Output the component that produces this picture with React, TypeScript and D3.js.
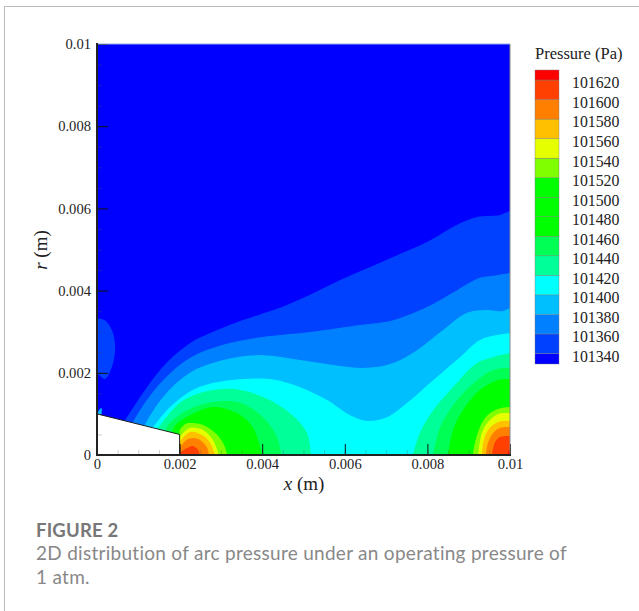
import React, { useEffect, useRef } from 'react';
import * as d3 from 'd3';

type Pt = [number, number];

// pressure bands, bottom to top of the legend
const levels = [101340, 101360, 101380, 101400, 101420, 101440, 101460, 101480, 101500, 101520, 101540, 101560, 101580, 101600, 101620];
const bandColors = ['#0000ff', '#0040ff', '#0080ff', '#00bfff', '#00ffff', '#00ff99', '#00ff55', '#00ff00', '#00ff00', '#00ff00', '#80ff00', '#e6ff00', '#ffc000', '#ff8000', '#ff4000', '#ff0000'];

const xMajor = [0, 0.002, 0.004, 0.006, 0.008, 0.01];
const rMajor = [0, 0.002, 0.004, 0.006, 0.008, 0.01];
const minorStep = 0.0005;

// contour lines, [x, r] in mm
const c340: Pt[] = [[0.56, 0.66], [0.68, 0.85], [1.21, 1.65], [1.69, 2.25], [2.25, 2.72], [2.8, 2.99], [3.39, 3.23], [4.6, 3.65], [6.05, 4.33], [7.17, 4.82], [7.99, 5.18], [8.72, 5.6], [9.2, 5.79], [9.76, 5.84], [10, 5.94]];
const c340bump: Pt[] = [[0, 3.32], [0.19, 3.28], [0.36, 3.04], [0.44, 2.63], [0.36, 2.14], [0.19, 1.85], [0, 2.0]];
const c360: Pt[] = [[0.8, 0.66], [0.87, 0.8], [1.16, 1.27], [1.6, 1.82], [2.25, 2.36], [3.05, 2.68], [3.87, 2.85], [5.16, 2.99], [6.37, 3.16], [7.17, 3.28], [7.99, 3.6], [8.72, 4.01], [9.27, 4.31], [9.59, 4.36], [10, 4.43]];
const c380: Pt[] = [[1.09, 0.56], [1.16, 0.73], [1.6, 1.41], [2.25, 2.0], [3.05, 2.31], [3.87, 2.43], [4.92, 2.31], [5.71, 2.19], [6.54, 2.12], [7.17, 2.24], [7.75, 2.55], [8.38, 3.04], [8.96, 3.46], [9.44, 3.53], [9.83, 3.5], [10, 3.58]];
const c380blip: Pt[] = [[0, 1.0], [0.06, 1.1], [0.11, 1.14], [0.11, 1.0]];
const c400: Pt[] = [[1.28, 0.56], [1.36, 0.68], [1.77, 1.17], [2.42, 1.63], [3.22, 1.82], [4.26, 1.84], [4.92, 1.65], [5.57, 1.34], [6.13, 0.97], [6.54, 0.83], [7.02, 0.92], [7.51, 1.27], [8.14, 1.82], [8.79, 2.38], [9.27, 2.8], [9.69, 2.92], [10, 2.97]];
const c420L: Pt[] = [[1.4, 0.56], [1.48, 0.66], [2.01, 1.27], [2.57, 1.53], [3.29, 1.61], [4.02, 1.41], [4.67, 1.02], [5.08, 0.54], [5.18, 0]];
const c420R: Pt[] = [[7.65, 0], [7.82, 0.54], [8.14, 1.09], [8.62, 1.65], [9.2, 2.24], [9.59, 2.38], [10, 2.48]];
const c440L: Pt[] = [[1.65, 0.56], [1.72, 0.73], [2.18, 1.09], [2.81, 1.29], [3.46, 1.27], [4.02, 0.92], [4.36, 0.44], [4.46, 0]];
const c440R: Pt[] = [[8.14, 0], [8.31, 0.68], [8.72, 1.34], [9.2, 1.82], [9.59, 2.07], [10, 2.12]];
const c460L: Pt[] = [[1.82, 0.56], [1.9, 0.73], [2.25, 0.97], [2.81, 1.17], [3.39, 1.02], [3.78, 0.66], [4.0, 0]];
const c460R: Pt[] = [[8.5, 0], [8.62, 0.61], [8.86, 1.09], [9.27, 1.58], [9.69, 1.82], [10, 1.85]];
const c520L: Pt[] = [[2, 0.61], [2.13, 0.75], [2.25, 0.78], [2.57, 0.73], [2.91, 0.49], [3.1, 0.19], [3.15, 0]];
const c520R: Pt[] = [[9.1, 0], [9.15, 0.29], [9.32, 0.78], [9.52, 1.02], [9.76, 1.14], [10, 1.17]];
const c540L: Pt[] = [[2, 0.44], [2.25, 0.66], [2.57, 0.61], [2.81, 0.36], [2.95, 0]];
const c540R: Pt[] = [[9.23, 0], [9.32, 0.54], [9.47, 0.8], [9.71, 1.0], [10, 1.02]];
const c560L: Pt[] = [[2, 0.32], [2.25, 0.56], [2.54, 0.49], [2.74, 0.29], [2.86, 0]];
const c560R: Pt[] = [[9.32, 0], [9.35, 0.29], [9.47, 0.61], [9.71, 0.8], [10, 0.83]];
const c580L: Pt[] = [[2, 0.17], [2.2, 0.39], [2.45, 0.39], [2.66, 0.19], [2.71, 0]];
const c580R: Pt[] = [[9.42, 0], [9.44, 0.19], [9.56, 0.49], [9.76, 0.66], [10, 0.68]];
const c600L: Pt[] = [[2, 0.05], [2.18, 0.17], [2.32, 0.22], [2.45, 0.12], [2.49, 0]];
const c600R: Pt[] = [[9.56, 0], [9.64, 0.32], [9.76, 0.44], [10, 0.46]];
const c620R: Pt[] = [[9.95, 0], [9.97, 0.1], [10, 0.12]];

// white electrode cut out of the domain, mm
const electrode: Pt[] = [[0, 1], [2, 0.5], [2, 0], [0, 0]];

// level, curve, points that close the region along the domain edge
const regions: [number, Pt[], Pt[]][] = [
  [101340, c340, [[10, 0], [0, 0]]],
  [101340, c340bump, []],
  [101360, c360, [[10, 0], [0, 0]]],
  [101380, c380, [[10, 0], [0, 0]]],
  [101380, c380blip, []],
  [101400, c400, [[10, 0], [0, 0]]],
  [101420, c420L, [[1.4, 0]]],
  [101420, c420R, [[10, 0]]],
  [101440, c440L, [[1.65, 0]]],
  [101440, c440R, [[10, 0]]],
  [101460, c460L, [[1.82, 0]]],
  [101460, c460R, [[10, 0]]],
  [101520, c520L, [[2, 0]]],
  [101520, c520R, [[10, 0]]],
  [101540, c540L, [[2, 0]]],
  [101540, c540R, [[10, 0]]],
  [101560, c560L, [[2, 0]]],
  [101560, c560R, [[10, 0]]],
  [101580, c580L, [[2, 0]]],
  [101580, c580R, [[10, 0]]],
  [101600, c600L, [[2, 0]]],
  [101600, c600R, [[10, 0]]],
  [101620, c620R, [[10, 0]]],
];

const serif = '"Liberation Serif", serif';
const sans = 'Lato, "Open Sans", sans-serif';

const x = d3.scaleLinear().domain([0, 0.01]).range([97, 510]);
const r = d3.scaleLinear().domain([0, 0.01]).range([455, 44]);
// legend edges sit on the level values
const legendY = d3.scaleLinear().domain([101340, 101620]).range([353.5, 80]);

const fmt = (d: number) => (d === 0 ? '0' : String(+d.toFixed(3)));

const curve = d3.line<Pt>()
  .x(d => x(d[0] / 1000))
  .y(d => r(d[1] / 1000))
  .curve(d3.curveCatmullRom.alpha(0.5));

const straight = d3.line<Pt>()
  .x(d => x(d[0] / 1000))
  .y(d => r(d[1] / 1000));

const regionPath = (pts: Pt[], closing: Pt[]) => {
  const tail = closing.map(p => `L${x(p[0] / 1000)},${r(p[1] / 1000)}`).join('');
  return `${curve(pts)}${tail}Z`;
};

const App = () => {
  const axisX = useRef<SVGGElement>(null);
  const axisR = useRef<SVGGElement>(null);

  useEffect(() => {
    const minor = d3.range(0, 0.01 + 1e-9, minorStep);

    const bx = d3.select(axisX.current);
    bx.selectAll('*').remove();
    bx.append('g').call(d3.axisBottom(x).tickValues(minor).tickSize(-5).tickFormat(() => '') as any)
      .call(g => g.select('.domain').remove())
      .selectAll('line').attr('stroke', '#555').attr('stroke-width', 0.5).attr('stroke-opacity', 0.6);
    bx.append('g').call(d3.axisBottom(x).tickValues(xMajor).tickSize(-11).tickPadding(5).tickFormat(d => fmt(+d)) as any)
      .call(g => g.select('.domain').remove())
      .call(g => g.selectAll('line').attr('stroke', '#111').attr('stroke-width', 1))
      .call(g => g.selectAll('text').attr('font-family', serif).attr('font-size', 14.6).attr('fill', '#222').attr('dy', '0.62em'));

    const ly = d3.select(axisR.current);
    ly.selectAll('*').remove();
    ly.append('g').call(d3.axisLeft(r).tickValues(minor).tickSize(-5).tickFormat(() => '') as any)
      .call(g => g.select('.domain').remove())
      .selectAll('line').attr('stroke', '#555').attr('stroke-width', 0.5).attr('stroke-opacity', 0.6);
    ly.append('g').call(d3.axisLeft(r).tickValues(rMajor).tickSize(-11).tickPadding(6).tickFormat(d => fmt(+d)) as any)
      .call(g => g.select('.domain').remove())
      .call(g => g.selectAll('line').attr('stroke', '#111').attr('stroke-width', 1))
      .call(g => g.selectAll('text').attr('font-family', serif).attr('font-size', 14.6).attr('fill', '#222'));
  }, []);

  const colorOf = (level: number) => bandColors[levels.indexOf(level) + 1];
  const bandTop = (i: number) => (i === bandColors.length - 1 ? legendY(levels[levels.length - 1]) - 10 : legendY(levels[i]));
  const bandBottom = (i: number) => (i === 0 ? legendY(levels[0]) + 10.5 : legendY(levels[i - 1]));

  return (
    <svg width={639} height={611} style={{ position: 'absolute', left: 0, top: 0, background: '#fff' }}>
      {/* card edges */}
      <line x1={4.5} x2={639} y1={6.5} y2={6.5} stroke="#bbb" />
      <line x1={4.5} x2={4.5} y1={6.5} y2={611} stroke="#bbb" />

      {/* field */}
      <rect x={x(0)} y={r(0.01)} width={x(0.01) - x(0)} height={r(0) - r(0.01)} fill={bandColors[0]} />
      {regions.map(([level, pts, closing], i) => (
        <path key={i} d={regionPath(pts, closing)} fill={colorOf(level)} />
      ))}
      <path d={`${straight(electrode)}Z`} fill="#fff" />
      <line x1={x(0)} x2={x(0.002)} y1={r(0.001)} y2={r(0.0005)} stroke="#222" />
      <line x1={x(0.002)} x2={x(0.002)} y1={r(0.0005)} y2={r(0)} stroke="#222" />

      <g ref={axisX} transform={`translate(0,${r(0)})`} />
      <g ref={axisR} transform={`translate(${x(0)},0)`} />

      {/* frame */}
      <line x1={x(0)} x2={x(0.01)} y1={r(0.01)} y2={r(0.01)} stroke="#8fa8e8" />
      <line x1={x(0.01)} x2={x(0.01)} y1={r(0.01)} y2={r(0)} stroke="#888" />
      <line x1={x(0)} x2={x(0)} y1={r(0.01) - 1} y2={r(0) + 1} stroke="#222" strokeWidth={2} />
      <line x1={x(0) - 1} x2={x(0.01) + 1} y1={r(0)} y2={r(0)} stroke="#222" strokeWidth={2} />

      <text x={304} y={490} textAnchor="middle" fontFamily={serif} fontSize={19} fill="#222">
        <tspan fontStyle="italic">x</tspan> (m)
      </text>
      <text transform="translate(47,250) rotate(-90)" textAnchor="middle" fontFamily={serif} fontSize={19} fill="#222">
        <tspan fontStyle="italic">r</tspan> (m)
      </text>

      {/* legend */}
      <text x={535} y={59} fontFamily={serif} fontSize={16.5} fill="#222">Pressure (Pa)</text>
      {bandColors.map((c, i) => (
        <rect key={i} x={535} width={24} y={bandTop(i)} height={bandBottom(i) - bandTop(i)} fill={c} stroke="#7a7a7a" strokeWidth={0.4} />
      ))}
      {levels.map(l => (
        <text key={l} x={572} y={legendY(l) + 3} dy="0.34em" fontFamily={serif} fontSize={15.8} fill="#222">{l}</text>
      ))}

      {/* caption */}
      <text x={36} y={537} fontFamily={sans} fontWeight="bold" fontSize={18.5} letterSpacing={0.2} fill="#777">FIGURE 2</text>
      <text x={36} y={560} fontFamily={sans} fontSize={19} letterSpacing={0.28} fill="#888">2D distribution of arc pressure under an operating pressure of</text>
      <text x={36} y={584} fontFamily={sans} fontSize={19} letterSpacing={0.28} fill="#888">1 atm.</text>
    </svg>
  );
};

export default App;
